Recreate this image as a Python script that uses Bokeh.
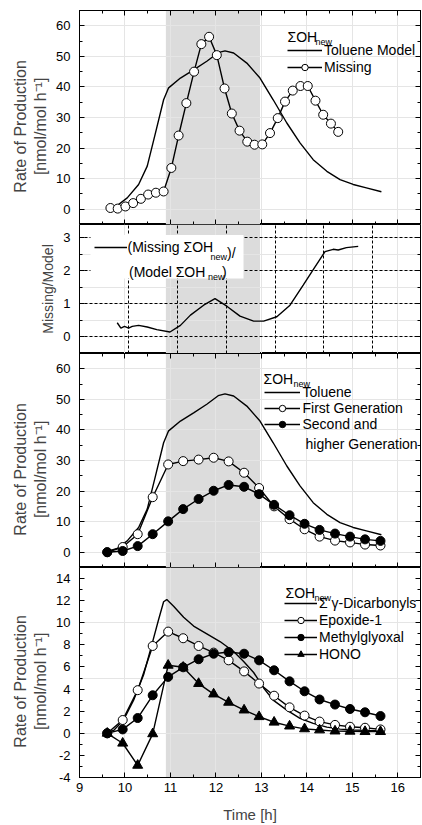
from bokeh.plotting import figure
from bokeh.layouts import column
from bokeh.models import (LinearAxis, SingleIntervalTicker, FixedTicker, Grid,
                          BoxAnnotation, Legend, LegendItem, Label, Range1d,
                          PrintfTickFormatter)
from bokeh.embed import file_html
from bokeh.resources import INLINE

FONT = "Liberation Sans"

# ---------------- data ----------------
t_model = [9.59, 9.83, 10.05, 10.30, 10.49, 10.67, 10.85, 10.96, 11.22, 11.51, 11.80,
           12.05, 12.20, 12.39, 12.68, 12.97, 13.26, 13.56, 13.85, 14.14, 14.44, 14.73,
           15.02, 15.31, 15.64]
toluene_model = [0.2, 1.2, 3.7, 8.1, 14.1, 24.9, 35.8, 39.7, 42.9, 45.6, 48.4,
                 51.2, 51.8, 51.1, 47.8, 42.9, 35.8, 28.2, 21.7, 16.2, 12.4, 9.7,
                 8.1, 7.0, 5.7]

t_missing = [9.68, 9.84, 10.01, 10.18, 10.35, 10.51, 10.68, 10.85, 11.02, 11.18, 11.35,
             11.52, 11.68, 11.85, 12.02, 12.19, 12.35, 12.52, 12.69, 12.85, 13.02, 13.19,
             13.36, 13.52, 13.69, 13.86, 14.02, 14.19, 14.36, 14.53, 14.69]
missing = [0.4, 0.2, 0.9, 2.0, 3.4, 4.8, 5.4, 5.8, 13.5, 24.1, 34.7,
           45.0, 54.0, 56.4, 50.4, 39.5, 31.3, 25.7, 22.1, 21.1, 21.2, 24.9,
           29.8, 35.2, 38.8, 40.3, 40.3, 35.5, 30.9, 28.0, 25.3]

t_ratio = [9.83, 9.91, 9.99, 10.08, 10.16, 10.30, 10.49, 10.70, 10.99, 11.22, 11.44,
           11.73, 11.98, 12.24, 12.53, 12.83, 13.05, 13.34, 13.63, 13.92, 14.18, 14.40,
           14.58, 14.69, 14.87, 15.13]
ratio = [0.43, 0.27, 0.32, 0.27, 0.32, 0.35, 0.30, 0.22, 0.15, 0.35, 0.66,
         0.96, 1.16, 0.93, 0.63, 0.48, 0.48, 0.61, 0.96, 1.57, 2.12, 2.58,
         2.65, 2.63, 2.70, 2.74]
ratio_grid_x = [10.08, 11.15, 12.23, 13.30, 14.37, 15.45]
ratio_grid_y = [0, 1, 2, 3]

t_gen = [9.61, 9.95, 10.28, 10.61, 10.95, 11.28, 11.62, 11.95, 12.28, 12.62, 12.95,
         13.28, 13.62, 13.95, 14.28, 14.62, 14.95, 15.28, 15.62]
first_gen = [0, 1.7, 5.9, 18.0, 28.7, 29.8, 30.3, 30.9, 29.7, 26.0, 21.0,
             15.0, 10.8, 7.5, 5.1, 3.8, 3.2, 2.5, 2.2]
second_gen = [0, 0.4, 2.0, 5.9, 10.1, 14.1, 17.4, 20.1, 22.0, 21.4, 19.0,
              15.5, 12.1, 9.3, 7.3, 6.1, 5.1, 4.2, 3.7]

t_dicarb = [9.55, 9.75, 9.97, 10.19, 10.41, 10.59, 10.74, 10.85, 10.92, 11.07, 11.29,
            11.51, 11.80, 12.09, 12.39, 12.61, 12.83, 13.05, 13.26, 13.56, 13.85, 14.14,
            14.44, 14.73, 15.02, 15.31, 15.64]
dicarbonyls = [0, 0.26, 1.2, 3.0, 5.3, 8.0, 10.3, 11.9, 12.1, 11.5, 10.5,
               9.7, 9.0, 8.3, 7.4, 6.5, 5.5, 4.1, 3.0, 2.1, 1.35, 0.9,
               0.56, 0.38, 0.3, 0.26, 0.24]
epoxide = [0, 1.2, 3.9, 7.9, 9.2, 8.6, 7.9, 7.3, 6.6, 5.6, 4.5,
           3.4, 2.35, 1.6, 1.06, 0.76, 0.59, 0.5, 0.35]
methylglyoxal = [0, 0.35, 1.38, 3.44, 5.1, 5.97, 6.7, 7.2, 7.35, 7.2, 6.6,
                 5.7, 4.7, 3.8, 3.06, 2.6, 2.2, 1.9, 1.56]
hono = [0, -0.9, -2.9, -0.05, 6.15, 5.97, 4.5, 3.55, 2.8, 2.1, 1.5,
        1.0, 0.65, 0.4, 0.3, 0.2, 0.18, 0.15, 0.15]

shade_start, shade_end = 10.9, 12.97
x_start, x_end = 9, 16.5

# ---------------- layout geometry (pixels) ----------------
W = 422
FL, FR = 79, 420
panels = {
    1: dict(top=10, bottom=224, y0=-5, y1=65),
    2: dict(top=224, bottom=353, y0=-0.5, y1=3.4),
    3: dict(top=353, bottom=567, y0=-5, y1=65),
    4: dict(top=567, bottom=782, y0=-4, y1=15),
}

def X(px):
    return x_start + (px - FL) * (x_end - x_start) / (FR - FL)

def Y(k, py):
    g = panels[k]
    return g["y1"] - (py - g["top"]) * (g["y1"] - g["y0"]) / (g["bottom"] - g["top"])

xr = Range1d(x_start, x_end)
PAD = "    "
YLAB = "Rate of Production" + PAD + "\n[nmol/mol h\u207b\u00b9]" + PAD


def base_fig(k, height, top, bottom):
    g = panels[k]
    p = figure(width=W, height=height, x_range=xr, y_range=Range1d(g["y0"], g["y1"]),
               output_backend="svg", toolbar_location=None,
               x_axis_location=None, y_axis_location=None,
               min_border_left=FL, min_border_right=W - FR,
               min_border_top=top, min_border_bottom=bottom)
    p.outline_line_color = "black"
    p.outline_line_width = 1
    p.background_fill_color = "white"
    p.border_fill_color = "white"
    p.add_layout(BoxAnnotation(left=shade_start, right=shade_end, fill_color="#dcdcdc",
                               fill_alpha=1, line_color=None, level="image"))
    return p


def style_ticks(ax):
    ax.major_tick_in = 5
    ax.major_tick_out = 0
    ax.minor_tick_in = 3
    ax.minor_tick_out = 0
    ax.axis_line_color = "black"
    ax.major_tick_line_color = "black"
    ax.minor_tick_line_color = "black"


def hide_labels(ax):
    ax.major_label_text_font_size = "0px"
    ax.major_label_text_alpha = 0
    ax.major_label_text_color = None
    ax.major_label_standoff = 0


def add_x_axis(p, place, labels=False):
    ax = LinearAxis(ticker=SingleIntervalTicker(interval=1, num_minor_ticks=2))
    style_ticks(ax)
    if labels:
        ax.formatter = PrintfTickFormatter(format="%d")
        ax.major_label_text_font = FONT
        ax.major_label_text_font_size = "13px"
        ax.major_label_text_color = "black"
        ax.major_label_standoff = 5
        ax.axis_label = "Time [h]"
        ax.axis_label_text_font = FONT
        ax.axis_label_text_font_size = "15px"
        ax.axis_label_text_font_style = "normal"
        ax.axis_label_standoff = 11
    else:
        hide_labels(ax)
    p.add_layout(ax, place)


def add_y_axes(p, interval, label, label_size, lab_standoff, fmt="%d"):
    left = LinearAxis(ticker=SingleIntervalTicker(interval=interval, num_minor_ticks=2))
    style_ticks(left)
    left.formatter = PrintfTickFormatter(format=fmt)
    left.major_label_text_font = FONT
    left.major_label_text_font_size = "13px"
    left.major_label_text_color = "black"
    left.major_label_standoff = 9
    left.axis_label = label
    left.axis_label_text_font = FONT
    left.axis_label_text_font_size = label_size
    left.axis_label_text_font_style = "normal"
    left.axis_label_standoff = lab_standoff
    p.add_layout(left, "left")
    right = LinearAxis(ticker=SingleIntervalTicker(interval=interval, num_minor_ticks=2))
    style_ticks(right)
    hide_labels(right)
    p.add_layout(right, "right")


def add_legend(p, k, items, left_px, first_center_px, glyph_w, standoff, h, spacing):
    g = panels[k]
    n = len(items)
    top_px = first_center_px - h / 2
    height = n * h + (n - 1) * spacing
    vy = g["bottom"] - (top_px + height)
    lg = Legend(items=items, location=(left_px - FL, vy), glyph_width=glyph_w,
                glyph_height=h, label_height=h, label_standoff=standoff,
                spacing=spacing, padding=0, margin=0, border_line_color=None,
                background_fill_alpha=0, label_text_font=FONT,
                label_text_font_size="14px", label_text_color="black")
    p.add_layout(lg)


def add_text(p, k, px, py, txt, size="14px", baseline="alphabetic"):
    p.add_layout(Label(x=X(px), y=Y(k, py), text=txt, text_font=FONT,
                       text_font_size=size, text_baseline=baseline,
                       text_align="left", text_color="black"))


LW = 1.4
MS = 9

# ---------------- panel 1 ----------------
p1 = base_fig(1, 224, 10, 0)
add_x_axis(p1, "above")
add_x_axis(p1, "below")
add_y_axes(p1, 10, YLAB, "16px", 4)
r_tol1 = p1.line(t_model, toluene_model, line_color="black", line_width=LW)
r_mis_l = p1.line(t_missing, missing, line_color="black", line_width=LW)
r_mis_s = p1.scatter(t_missing, missing, size=MS, marker="circle", fill_color="white",
                     line_color="black", line_width=1)
add_legend(p1, 1, [LegendItem(label="Toluene Model", renderers=[r_tol1]),
                   LegendItem(label="Missing", renderers=[r_mis_l, r_mis_s])],
           287, 50, 35, 2, 16, 1)
add_text(p1, 1, 287, 36.5, "\u03a3OH")
add_text(p1, 1, 315, 41.5, "new", "9px")

# ---------------- panel 2 ----------------
p2 = base_fig(2, 129, 0, 0)
add_y_axes(p2, 1, "Missing/Model", "14px", 4)
p2.add_layout(Grid(dimension=0, ticker=FixedTicker(ticks=ratio_grid_x),
                   grid_line_color="black", grid_line_dash="3 2", grid_line_width=1))
p2.add_layout(Grid(dimension=1, ticker=FixedTicker(ticks=ratio_grid_y),
                   grid_line_color="black", grid_line_dash="3 2", grid_line_width=1))
p2.add_layout(BoxAnnotation(left=X(90), right=X(243), top=Y(2, 234.5), bottom=Y(2, 278),
                            fill_color="white", fill_alpha=1, line_color=None))
r_ratio = p2.line(t_ratio, ratio, line_color="black", line_width=LW)
add_legend(p2, 2, [LegendItem(label="(Missing \u03a3OH", renderers=[r_ratio])],
           93.5, 247, 33, 1, 16, 0)
add_text(p2, 2, 210, 256, "new", "9px")
add_text(p2, 2, 226.5, 252, ")/")
add_text(p2, 2, 128.5, 271.5, "(Model \u03a3OH")
add_text(p2, 2, 207.5, 276, "new", "9px")
add_text(p2, 2, 221.5, 271.5, ")")

# ---------------- panel 3 ----------------
p3 = base_fig(3, 214, 0, 0)
add_x_axis(p3, "above")
add_x_axis(p3, "below")
add_y_axes(p3, 10, YLAB, "16px", 4)
r_tol3 = p3.line(t_model, toluene_model, line_color="black", line_width=LW)
r_fg_l = p3.line(t_gen, first_gen, line_color="black", line_width=LW)
r_fg_s = p3.scatter(t_gen, first_gen, size=MS, marker="circle", fill_color="white",
                    line_color="black", line_width=1)
r_sg_l = p3.line(t_gen, second_gen, line_color="black", line_width=LW)
r_sg_s = p3.scatter(t_gen, second_gen, size=MS, marker="circle", fill_color="black",
                    line_color="black", line_width=1)
add_legend(p3, 3, [LegendItem(label="Toluene", renderers=[r_tol3]),
                   LegendItem(label="First Generation", renderers=[r_fg_l, r_fg_s]),
                   LegendItem(label="Second and", renderers=[r_sg_l, r_sg_s])],
           263.5, 391.7, 36, 3, 16, 0)
add_text(p3, 3, 305, 443.5, "higher Generation", "14px", "middle")
add_text(p3, 3, 263, 378.3, "\u03a3OH")
add_text(p3, 3, 293, 383, "new", "9px")

# ---------------- panel 4 ----------------
p4 = base_fig(4, 258, 0, 43)
add_x_axis(p4, "below", labels=True)
add_y_axes(p4, 2, YLAB, "16px", 4)
r_dc = p4.line(t_dicarb, dicarbonyls, line_color="black", line_width=LW)
r_ep_l = p4.line(t_gen, epoxide, line_color="black", line_width=LW)
r_ep_s = p4.scatter(t_gen, epoxide, size=MS, marker="circle", fill_color="white",
                    line_color="black", line_width=1)
r_mg_l = p4.line(t_gen, methylglyoxal, line_color="black", line_width=LW)
r_mg_s = p4.scatter(t_gen, methylglyoxal, size=MS, marker="circle", fill_color="black",
                    line_color="black", line_width=1)
r_ho_l = p4.line(t_gen, hono, line_color="black", line_width=LW)
r_ho_s = p4.scatter(t_gen, hono, size=10, marker="triangle", fill_color="black",
                    line_color="black", line_width=1)
add_legend(p4, 4, [LegendItem(label="\u03a3 \u03b3-Dicarbonyls", renderers=[r_dc]),
                   LegendItem(label="Epoxide-1", renderers=[r_ep_l, r_ep_s]),
                   LegendItem(label="Methylglyoxal", renderers=[r_mg_l, r_mg_s]),
                   LegendItem(label="HONO", renderers=[r_ho_l, r_ho_s])],
           284, 608.3, 33, 2, 16, 1)
add_text(p4, 4, 285, 593.5, "\u03a3OH")
add_text(p4, 4, 314, 598.5, "new", "9px")

layout = column(p1, p2, p3, p4, spacing=0)
open("out.html", "w").write(file_html(layout, INLINE))
